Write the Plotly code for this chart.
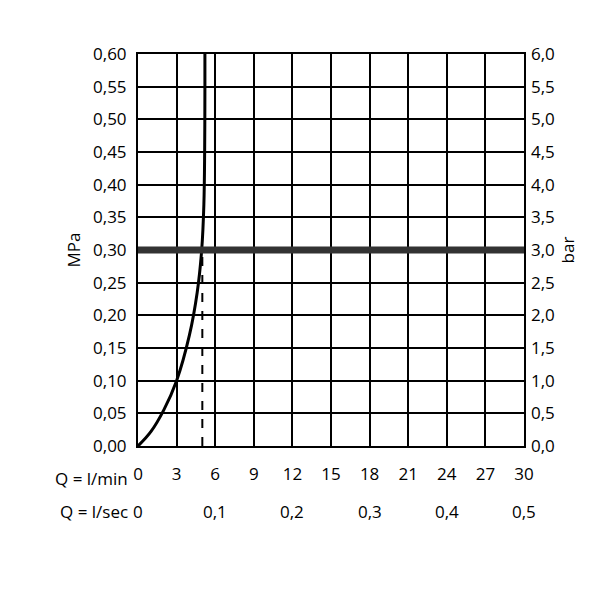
import plotly.graph_objects as go

flow_lmin = [0, 1, 2, 3, 4, 4.6, 4.95, 5.12, 5.18, 5.2, 5.2]
pressure_mpa = [0, 0.022, 0.055, 0.10, 0.17, 0.235, 0.30, 0.37, 0.45, 0.55, 0.60]
x_ticks = [0, 3, 6, 9, 12, 15, 18, 21, 24, 27, 30]
lsec_pos = [0, 6, 12, 18, 24, 30]
lsec_labels = ["0", "0,1", "0,2", "0,3", "0,4", "0,5"]
mpa_ticks = [i * 0.05 for i in range(13)]
mpa_labels = [f"{v:.2f}".replace(".", ",") for v in mpa_ticks]
bar_labels = [f"{v*10:.1f}".replace(".", ",") for v in mpa_ticks]
ref_pressure = 0.30
ref_flow = 5.0

F = dict(family="Open Sans, DejaVu Sans", size=17, color="black")
fig = go.Figure()
fig.add_trace(go.Scatter(x=flow_lmin, y=pressure_mpa, mode="lines",
                         line=dict(color="black", width=3), line_shape="spline"))
fig.add_trace(go.Scatter(x=[0, 30], y=[ref_pressure, ref_pressure], mode="lines",
                         line=dict(color="#333", width=7)))
fig.add_trace(go.Scatter(x=[ref_flow, ref_flow], y=[0, ref_pressure], mode="lines",
                         line=dict(color="black", width=2, dash="dash")))
fig.add_trace(go.Scatter(x=[0], y=[0], yaxis="y2", mode="markers", marker=dict(opacity=0)))

ax = dict(showgrid=True, gridcolor="black", gridwidth=2, showline=True, linecolor="black",
          linewidth=2, mirror=True, zeroline=False, tickfont=F, ticks="", automargin=False,
          ticklabelstandoff=6)
fig.update_layout(
    width=600, height=600, showlegend=False, plot_bgcolor="white", paper_bgcolor="white",
    margin=dict(l=130, r=84, t=46, b=162),
    xaxis=dict(ax, range=[0, 30], tickvals=x_ticks, ticktext=[str(v) for v in x_ticks],
               ticklabelstandoff=12),
    yaxis=dict(ax, range=[0, 0.6], tickvals=mpa_ticks, ticktext=mpa_labels,
               title=dict(text="MPa", font=F, standoff=8)),
    yaxis2=dict(range=[0, 0.6], overlaying="y", side="right", tickvals=mpa_ticks,
                ticktext=bar_labels, tickfont=F, showgrid=False, zeroline=False,
                automargin=False, ticklabelstandoff=6,
                title=dict(text="bar", font=F, standoff=8)),
)
fig.add_annotation(x=0, xref="paper", xanchor="right", xshift=-8, y=-0.083, yref="paper",
                   yanchor="middle", text="Q = l/min", showarrow=False, font=F)
fig.add_annotation(x=0, xref="paper", xanchor="right", xshift=-8, y=-0.166, yref="paper",
                   yanchor="middle", text="Q = l/sec", showarrow=False, font=F)
for p, t in zip(lsec_pos, lsec_labels):
    fig.add_annotation(x=p, xref="x", y=-0.166, yref="paper", yanchor="middle",
                       text=t, showarrow=False, font=F)
fig.write_html("out.html")
